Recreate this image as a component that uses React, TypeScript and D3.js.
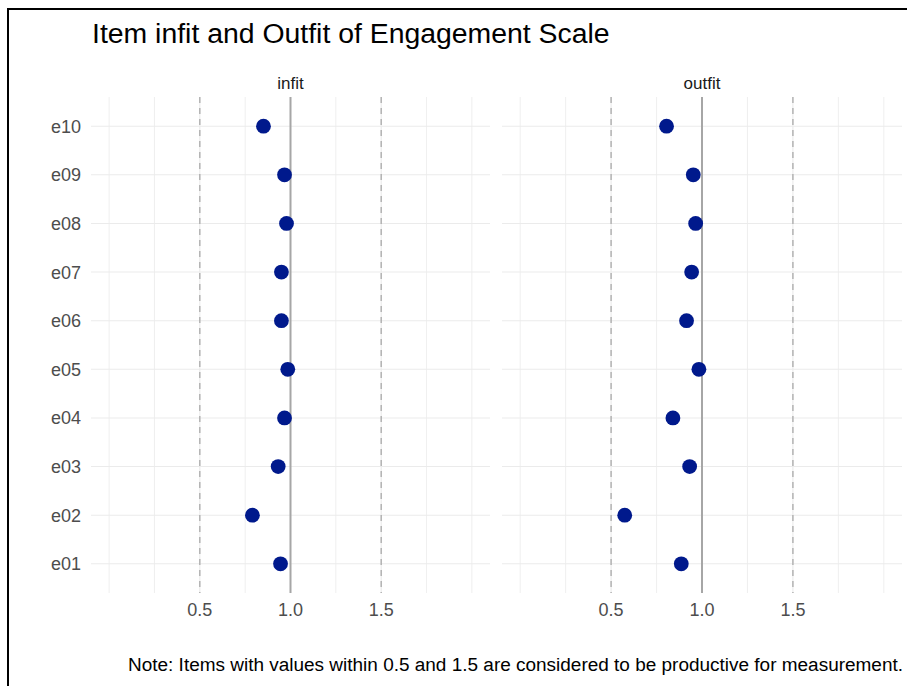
import React from 'react';
import * as d3 from 'd3';

// items from bottom (e01) to top (e10)
const items = ['e01', 'e02', 'e03', 'e04', 'e05', 'e06', 'e07', 'e08', 'e09', 'e10'];
const infit = [0.945, 0.79, 0.932, 0.967, 0.985, 0.95, 0.95, 0.978, 0.967, 0.851];
const outfit = [0.886, 0.575, 0.932, 0.84, 0.983, 0.915, 0.943, 0.965, 0.952, 0.805];

const majorBreaks = [0.5, 1.0, 1.5];
const gridBreaks = [0, 0.25, 0.5, 0.75, 1.0, 1.25, 1.5, 1.75, 2.0];
const cutoffs = [0.5, 1.5];

const title = 'Item infit and Outfit of Engagement Scale';
const note = 'Note: Items with values within 0.5 and 1.5 are considered to be productive for measurement.';

const W = 907;
const H = 686;
const FONT = '"Liberation Sans", Arial, sans-serif';
const POINT = '#00198c';

const panels = [
  { label: 'infit', values: infit, left: 91, right: 490 },
  { label: 'outfit', values: outfit, left: 502, right: 902 },
];

const top = 97;
const bottom = 593;

const y = d3.scalePoint<string>()
  .domain(items.slice().reverse())
  .range([top, bottom])
  .padding(0.6);

const Panel: React.FC<{ label: string; values: number[]; left: number; right: number }> = ({ label, values, left, right }) => {
  const x = d3.scaleLinear().domain([-0.1, 2.1]).range([left, right]);
  return (
    <g>
      {/* grid */}
      {gridBreaks.map(b => (
        <line key={'v' + b} x1={x(b)} x2={x(b)} y1={top} y2={bottom}
          stroke="#ebebeb" strokeWidth={majorBreaks.includes(b) ? 1.1 : 0.8} />
      ))}
      {items.map(it => (
        <line key={'h' + it} x1={left} x2={right} y1={y(it)} y2={y(it)} stroke="#ebebeb" strokeWidth={1.1} />
      ))}
      {/* reference lines */}
      {cutoffs.map(c => (
        <line key={'c' + c} x1={x(c)} x2={x(c)} y1={top} y2={bottom}
          stroke="#a9a9a9" strokeWidth={1.3} strokeDasharray="6,5" />
      ))}
      <line x1={x(1)} x2={x(1)} y1={top} y2={bottom} stroke="#a6a6a6" strokeWidth={2} />
      {/* points */}
      {values.map((v, i) => (
        <circle key={items[i]} cx={x(v)} cy={y(items[i])} r={7.4} fill={POINT} />
      ))}
      {/* strip */}
      <text x={(left + right) / 2} y={89} textAnchor="middle" fontSize={17} fill="#1a1a1a">{label}</text>
      {/* x ticks */}
      {majorBreaks.map(b => (
        <text key={'t' + b} x={x(b)} y={616} textAnchor="middle" fontSize={18} fill="#4d4d4d">
          {d3.format('.1f')(b)}
        </text>
      ))}
    </g>
  );
};

export default function App() {
  return (
    <svg width={W} height={H} style={{ position: 'absolute', left: 0, top: 0, background: '#fff' }}
      fontFamily={FONT}>
      <rect width={W} height={H} fill="#fff" />
      <text x={92} y={43} fontSize={28.4} fill="#000">{title}</text>
      {panels.map(p => <Panel key={p.label} {...p} />)}
      {items.map(it => (
        <text key={'y' + it} x={81} y={(y(it) ?? 0) + 6.5} textAnchor="end" fontSize={18} fill="#4d4d4d">{it}</text>
      ))}
      <text x={903} y={671} textAnchor="end" fontSize={18} fill="#000"
        textLength={775} lengthAdjust="spacingAndGlyphs">{note}</text>
      <line x1={8} x2={8} y1={8} y2={H} stroke="#000" strokeWidth={2} />
      <line x1={7} x2={W} y1={9} y2={9} stroke="#000" strokeWidth={2} />
    </svg>
  );
}
